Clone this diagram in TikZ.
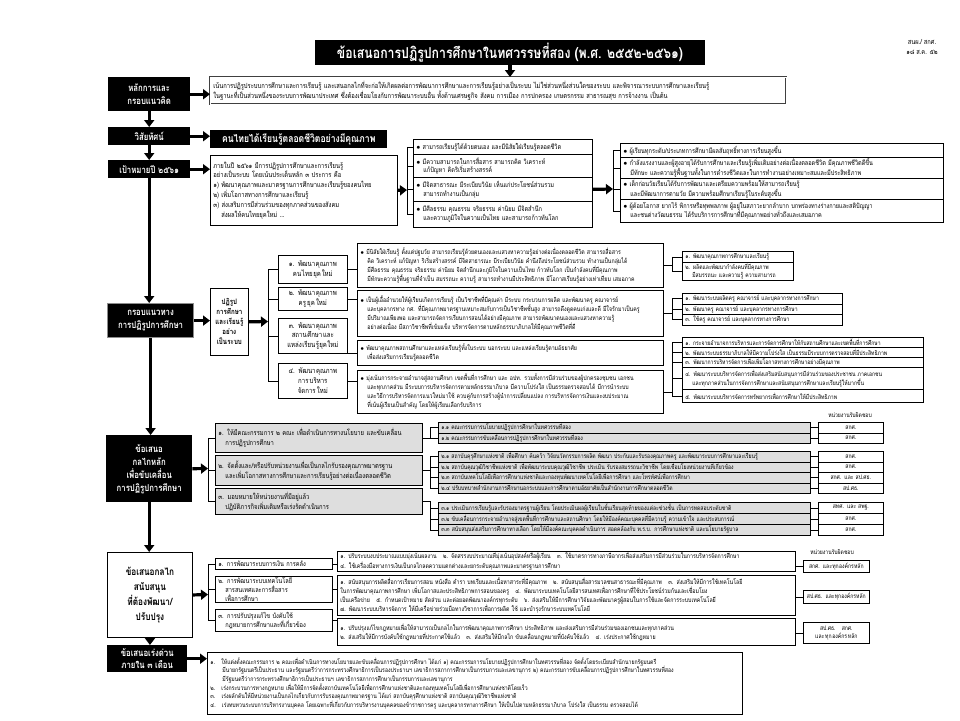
\documentclass[tikz,border=0pt]{standalone}
\usepackage{fontspec}
\setmainfont[Script=Thai,FakeStretch=0.82]{Loma}
\usetikzlibrary{arrows.meta,positioning}
\XeTeXlinebreaklocale "th"
\XeTeXlinebreakskip=0pt plus 1pt
\newcommand{\blt}{$\bullet$\ }
\newcommand{\nxt}{\\\hspace*{7pt}}

\tikzset{
  banner/.style={fill=black, text=white, font=\bfseries\fontsize{15}{18}\selectfont, inner sep=2pt},
  sidehead/.style={fill=black, text=white, anchor=north west, align=center, inner sep=1pt,
    font=\bfseries\fontsize{9.5}{13}\selectfont},
  box/.style={draw, line width=0.7pt, fill=white, anchor=north west, align=left,
    inner xsep=3pt, inner ysep=1pt, font=\fontsize{6.8}{8.8}\selectfont},
  greybox/.style={box, fill=black!13},
  subbox/.style={greybox, font=\fontsize{6.2}{7.8}\selectfont},
  resp/.style={box, align=center, inner xsep=2pt, font=\fontsize{6.2}{7.8}\selectfont},
  bigarrow/.style={line width=3.2pt, -{Triangle[width=10pt,length=7pt]}},
  link/.style={line width=0.7pt},
}

\begin{document}
\begin{tikzpicture}[x=1pt,y=-1pt]
\useasboundingbox (0,0) rectangle (960,720);

% Title
\node[banner, minimum width=390pt, minimum height=25pt] (title) at (510,52.5)
  {ข้อเสนอการปฏิรูปการศึกษาในทศวรรษที่สอง (พ.ศ. ๒๕๕๒-๒๕๖๑)};
\node[align=center, font=\fontsize{7}{9.5}\selectfont] (memo) at (922,47) {สนผ./ สกศ.\\๑๘ ส.ค. ๕๒};

% Principles
\node[sidehead, minimum width=82pt, minimum height=34pt] (princhead) at (108,77) {หลักการและ\\กรอบแนวคิด};
\node[box, double, double distance=0.8pt, draw=black!75, text width=570pt, minimum height=27pt, font=\fontsize{7.1}{9.6}\selectfont] (princ) at (210,77)
  {เน้นการปฏิรูประบบการศึกษาและการเรียนรู้ และเสนอกลไกที่จะก่อให้เกิดผลต่อการพัฒนาการศึกษาและการเรียนรู้อย่างเป็นระบบ ไม่ใช่ส่วนหนึ่งส่วนใดของระบบ และพิจารณาระบบการศึกษาและเรียนรู้\\
   ในฐานะที่เป็นส่วนหนึ่งของระบบการพัฒนาประเทศ ซึ่งต้องเชื่อมโยงกับการพัฒนาระบบอื่น ทั้งด้านเศรษฐกิจ สังคม การเมือง การปกครอง เกษตรกรรม สาธารณสุข การจ้างงาน เป็นต้น};
\draw[bigarrow] (title.south) -- (title.south |- princ.north);

% Vision
\node[sidehead, minimum width=82pt, minimum height=18pt] (vishead) at (108,127) {วิสัยทัศน์};
\node[sidehead, minimum width=177pt, minimum height=18pt, font=\bfseries\fontsize{10.5}{12}\selectfont] (vis) at (210,130)
  {คนไทยได้เรียนรู้ตลอดชีวิตอย่างมีคุณภาพ};

% Goal 2561
\node[sidehead, minimum width=82pt, minimum height=18pt] (goalhead) at (108,160) {เป้าหมายปี ๒๕๖๑};
\node[box, text width=181pt, minimum height=70pt, font=\fontsize{7.1}{9.8}\selectfont] (goal) at (210,155)
  {ภายในปี ๒๕๖๑ มีการปฏิรูปการศึกษาและการเรียนรู้\\
   อย่างเป็นระบบ โดยเน้นประเด็นหลัก ๓ ประการ คือ\\
   ๑) พัฒนาคุณภาพและมาตรฐานการศึกษาและเรียนรู้ของคนไทย\\
   ๒) เพิ่มโอกาสทางการศึกษาและเรียนรู้\\
   ๓) ส่งเสริมการมีส่วนร่วมของทุกภาคส่วนของสังคม\\
   \hspace*{8pt}ส่งผลให้คนไทยยุคใหม่ ...};

\node[box, text width=173pt, minimum height=15pt] (m1) at (413,139) {\blt สามารถเรียนรู้ได้ด้วยตนเอง และมีนิสัยใฝ่เรียนรู้ตลอดชีวิต};
\node[box, text width=173pt, minimum height=23pt] (m2) at (413,154) {\blt มีความสามารถในการสื่อสาร สามารถคิด วิเคราะห์\nxt แก้ปัญหา คิดริเริ่มสร้างสรรค์};
\node[box, text width=173pt, minimum height=24pt] (m3) at (413,177) {\blt มีจิตสาธารณะ มีระเบียบวินัย เห็นแก่ประโยชน์ส่วนรวม\nxt สามารถทำงานเป็นกลุ่ม};
\node[box, text width=173pt, minimum height=26pt] (m4) at (413,201) {\blt มีศีลธรรม คุณธรรม จริยธรรม ค่านิยม มีจิตสำนึก\nxt และความภูมิใจในความเป็นไทย และสามารถก้าวทันโลก};

\node[box, text width=317pt, minimum height=14pt] (r1) at (620,143) {\blt ผู้เรียนทุกระดับ/ประเภทการศึกษามีผลสัมฤทธิ์ทางการเรียนสูงขึ้น};
\node[box, text width=317pt, minimum height=21pt] (r2) at (620,157) {\blt กำลังแรงงานและผู้สูงอายุได้รับการศึกษาและเรียนรู้เพิ่มเติมอย่างต่อเนื่องตลอดชีวิต มีคุณภาพชีวิตดีขึ้น\nxt มีทักษะ และความรู้พื้นฐานทั้งในการดำรงชีวิตและในการทำงานอย่างเหมาะสมและมีประสิทธิภาพ};
\node[box, text width=317pt, minimum height=21pt] (r3) at (620,178) {\blt เด็กก่อนวัยเรียนได้รับการพัฒนาและเตรียมความพร้อมให้สามารถเรียนรู้\nxt และมีพัฒนาการตามวัย มีความพร้อมศึกษาเรียนรู้ในระดับสูงขึ้น};
\node[box, text width=317pt, minimum height=23pt] (r4) at (620,199) {\blt ผู้ด้อยโอกาส ยากไร้ พิการหรือทุพพลภาพ ผู้อยู่ในสภาวะยากลำบาก บกพร่องทางร่างกายและสติปัญญา\nxt และชนต่างวัฒนธรรม ได้รับบริการการศึกษาที่มีคุณภาพอย่างทั่วถึงและเสมอภาค};

\coordinate (gb) at (407,190);
\coordinate (rb) at (613,189);
\draw[bigarrow] (goal.east) -- (gb);
\draw[link] (gb |- m1.west) -- (gb |- m4.west);
\foreach \n in {m1,m2,m3,m4} \draw[link] (gb |- \n.west) -- (\n.west);
\draw[bigarrow] (m3.east) -- (rb);
\draw[link] (rb |- r1.west) -- (rb |- r4.west);
\foreach \n in {r1,r2,r3,r4} \draw[link] (rb |- \n.west) -- (\n.west);

% Reform framework
\node[sidehead, minimum width=86pt, minimum height=34pt, draw=black!45, line width=1.2pt] (fwhead) at (107,303) {กรอบแนวทาง\\การปฏิรูปการศึกษา};
\node[box, align=center, inner xsep=2pt, text width=34pt, minimum height=67pt, font=\bfseries\fontsize{7.5}{10}\selectfont] (reform) at (210,288)
  {ปฏิรูป\\การศึกษา\\และเรียนรู้\\อย่าง\\เป็นระบบ};

\node[box, align=center, text width=63pt, minimum height=28pt, font=\fontsize{7.4}{9.8}\selectfont] (f1) at (278,255) {๑. พัฒนาคุณภาพ\\คนไทยยุคใหม่};
\node[box, align=center, text width=63pt, minimum height=23pt, font=\fontsize{7.4}{9.8}\selectfont] (f2) at (278,287) {๒. พัฒนาคุณภาพ\\ครูยุคใหม่};
\node[box, align=center, text width=63pt, minimum height=35pt, font=\fontsize{7.4}{9.8}\selectfont] (f3) at (278,318) {๓. พัฒนาคุณภาพ\\สถานศึกษาและ\\แหล่งเรียนรู้ยุคใหม่};
\node[box, align=center, text width=63pt, minimum height=35pt, font=\fontsize{7.4}{9.8}\selectfont] (f4) at (278,363) {๔. พัฒนาคุณภาพ\\การบริหาร\\จัดการใหม่};

\node[box, text width=300pt, minimum height=44pt, font=\fontsize{6.4}{9}\selectfont] (d1) at (357,243)
  {\blt มีนิสัยใฝ่เรียนรู้ ตั้งแต่ปฐมวัย สามารถเรียนรู้ด้วยตนเองและแสวงหาความรู้อย่างต่อเนื่องตลอดชีวิต สามารถสื่อสาร\nxt
   คิด วิเคราะห์ แก้ปัญหา ริเริ่มสร้างสรรค์ มีจิตสาธารณะ มีระเบียบวินัย คำนึงถึงประโยชน์ส่วนรวม ทำงานเป็นกลุ่มได้\nxt
   มีศีลธรรม คุณธรรม จริยธรรม ค่านิยม จิตสำนึกและภูมิใจในความเป็นไทย ก้าวทันโลก เป็นกำลังคนที่มีคุณภาพ\nxt
   มีทักษะความรู้พื้นฐานที่จำเป็น สมรรถนะ ความรู้ สามารถทำงานมีประสิทธิภาพ มีโอกาสเรียนรู้อย่างเท่าเทียม เสมอภาค};
\node[box, text width=300pt, minimum height=46pt, font=\fontsize{6.4}{9}\selectfont] (d2) at (357,290)
  {\blt เป็นผู้เอื้ออำนวยให้ผู้เรียนเกิดการเรียนรู้ เป็นวิชาชีพที่มีคุณค่า มีระบบ กระบวนการผลิต และพัฒนาครู คณาจารย์\nxt
   และบุคลากรทาง กศ. ที่มีคุณภาพมาตรฐานเหมาะสมกับการเป็นวิชาชีพชั้นสูง สามารถดึงดูดคนเก่งและดี มีใจรักมาเป็นครู\nxt
   มีปริมาณเพียงพอ และสามารถจัดการเรียนการสอนได้อย่างมีคุณภาพ สามารถพัฒนาตนเองและแสวงหาความรู้\nxt
   อย่างต่อเนื่อง มีสภาวิชาชีพที่เข้มแข็ง บริหารจัดการตามหลักธรรมาภิบาลให้มีคุณภาพชีวิตที่ดี};
\node[box, text width=300pt, minimum height=25pt, font=\fontsize{6.4}{9}\selectfont] (d3) at (357,340)
  {\blt พัฒนาคุณภาพสถานศึกษาและแหล่งเรียนรู้ทั้งในระบบ นอกระบบ และแหล่งเรียนรู้ตามอัธยาศัย\nxt
   เพื่อส่งเสริมการเรียนรู้ตลอดชีวิต};
\node[box, text width=300pt, minimum height=43pt, font=\fontsize{6.4}{9}\selectfont] (d4) at (357,370)
  {\blt มุ่งเน้นการกระจายอำนาจสู่สถานศึกษา เขตพื้นที่การศึกษา และ อปท. รวมทั้งการมีส่วนร่วมของผู้ปกครองชุมชน เอกชน\nxt
   และทุกภาคส่วน มีระบบการบริหารจัดการตามหลักธรรมาภิบาล มีความโปร่งใส เป็นธรรมตรวจสอบได้ มีการนำระบบ\nxt
   และวิธีการบริหารจัดการแนวใหม่มาใช้ ควบคู่กับการสร้างผู้นำการเปลี่ยนแปลง การบริหารจัดการเงินและงบประมาณ\nxt
   ที่เน้นผู้เรียนเป็นสำคัญ โดยให้ผู้เรียนเลือกรับบริการ};

\node[box, text width=105pt, minimum height=11pt, font=\fontsize{6.2}{7.8}\selectfont] (q1) at (682,251) {๑. พัฒนาคุณภาพการศึกษาและเรียนรู้};
\node[box, text width=105pt, minimum height=18pt, font=\fontsize{6.2}{7.8}\selectfont] (q2) at (682,262) {๒. ผลิตและพัฒนากำลังคนที่มีคุณภาพ\nxt มีสมรรถนะ และความรู้ ความสามารถ};
\node[box, text width=154pt, minimum height=10.5pt, font=\fontsize{6.2}{7.8}\selectfont] (t1) at (682,293) {๑. พัฒนาระบบผลิตครู คณาจารย์ และบุคลากรทางการศึกษา};
\node[box, text width=154pt, minimum height=10.5pt, font=\fontsize{6.2}{7.8}\selectfont] (t2) at (682,303.5) {๒. พัฒนาครู คณาจารย์ และบุคลากรทางการศึกษา};
\node[box, text width=154pt, minimum height=10.5pt, font=\fontsize{6.2}{7.8}\selectfont] (t3) at (682,314) {๓. ใช้ครู คณาจารย์ และบุคลากรทางการศึกษา};
\node[box, text width=235pt, minimum height=10pt, font=\fontsize{6.2}{7.8}\selectfont] (a1) at (682,337) {๑. กระจายอำนาจการบริหารและการจัดการศึกษาให้กับสถานศึกษาและเขตพื้นที่การศึกษา};
\node[box, text width=235pt, minimum height=10pt, font=\fontsize{6.2}{7.8}\selectfont] (a2) at (682,347) {๒. พัฒนาระบบธรรมาภิบาลให้มีความโปร่งใส เป็นธรรมมีระบบการตรวจสอบที่มีประสิทธิภาพ};
\node[box, text width=235pt, minimum height=10pt, font=\fontsize{6.2}{7.8}\selectfont] (a3) at (682,357) {๓. พัฒนาการบริหารจัดการเพื่อเพิ่มโอกาสทางการศึกษาอย่างมีคุณภาพ};
\node[box, text width=235pt, minimum height=22pt, font=\fontsize{6.2}{7.8}\selectfont] (a4) at (682,367) {๔. พัฒนาระบบบริหารจัดการเพื่อส่งเสริมสนับสนุนการมีส่วนร่วมของประชาชน ภาคเอกชน\nxt และทุกภาคส่วนในการจัดการศึกษาและสนับสนุนการศึกษาและเรียนรู้ให้มากขึ้น};
\node[box, text width=235pt, minimum height=13pt, font=\fontsize{6.2}{7.8}\selectfont] (a5) at (682,389) {๕. พัฒนาระบบบริหารจัดการทรัพยากรเพื่อการศึกษาให้มีประสิทธิภาพ};

\draw[bigarrow] (fwhead.east) -- (fwhead.east -| reform.west);
\coordinate (fb) at (268,321.5);
\draw[bigarrow] (reform.east) -- (fb);
\draw[link] (fb |- f1.west) -- (fb |- f4.west);
\foreach \n in {f1,f2,f3,f4} \draw[link] (fb |- \n.west) -- (\n.west);
\draw[link] (f1.east) -- (f1.east -| d1.west);
\draw[link] (f2.east) -- (f2.east -| d2.west);
\draw[link] (d3.west -| f3.east) -- (d3.west);
\draw[link] (f4.east) -- (f4.east -| d4.west);
\coordinate (qb) at (672,0);
\draw[link] (d1.east) -- (d1.east -| qb) (qb |- q1.west) -- (qb |- q2.west);
\foreach \n in {q1,q2} \draw[link] (qb |- \n.west) -- (\n.west);
\draw[link] (d2.east) -- (d2.east -| qb) (qb |- t1.west) -- (qb |- t3.west);
\foreach \n in {t1,t2,t3} \draw[link] (qb |- \n.west) -- (\n.west);
\draw[link] (d4.east) -- (d4.east -| qb) (qb |- a1.west) -- (qb |- a5.west);
\foreach \n in {a1,a2,a3,a4,a5} \draw[link] (qb |- \n.west) -- (\n.west);

% Main mechanisms
\node[sidehead, minimum width=86pt, minimum height=67pt] (mechhead) at (106,435) {ข้อเสนอ\\กลไกหลัก\\เพื่อขับเคลื่อน\\การปฏิรูปการศึกษา};
\node[greybox, text width=201pt, minimum height=29pt, font=\fontsize{7.1}{9.8}\selectfont] (k1) at (215,423) {๑. ให้มีคณะกรรมการ ๒ คณะ เพื่อดำเนินการทางนโยบาย และขับเคลื่อน\nxt การปฏิรูปการศึกษา};
\node[greybox, text width=201pt, minimum height=30pt, font=\fontsize{7.1}{9.8}\selectfont] (k2) at (215,455) {๒. จัดตั้งและ/หรือปรับหน่วยงานเพื่อเป็นกลไกรับรองคุณภาพมาตรฐาน\nxt และเพิ่มโอกาสทางการศึกษาและการเรียนรู้อย่างต่อเนื่องตลอดชีวิต};
\node[greybox, text width=201pt, minimum height=26pt, font=\fontsize{7.1}{9.8}\selectfont] (k3) at (215,488) {๓. มอบหมายให้หน่วยงานที่มีอยู่แล้ว\nxt ปฏิบัติภารกิจเพิ่มเติมหรือเร่งรัดดำเนินการ};

\node[subbox, text width=366pt, minimum height=10.5pt] (pol1) at (438,422) {๑.๑ คณะกรรมการนโยบายปฏิรูปการศึกษาในทศวรรษที่สอง};
\node[subbox, text width=366pt, minimum height=10.5pt] (pol2) at (438,432.5) {๑.๒ คณะกรรมการขับเคลื่อนการปฏิรูปการศึกษาในทศวรรษที่สอง};
\node[subbox, text width=366pt, minimum height=10.5pt] (inst1) at (438,451) {๒.๑ สถาบันคุรุศึกษาแห่งชาติ เพื่อศึกษา ค้นคว้า วิจัยนวัตกรรมการผลิต พัฒนา ประกันและรับรองคุณภาพครู และพัฒนาระบบการศึกษาและเรียนรู้};
\node[subbox, text width=366pt, minimum height=10.5pt] (inst2) at (438,461.5) {๒.๒ สถาบันคุณวุฒิวิชาชีพแห่งชาติ เพื่อพัฒนาระบบคุณวุฒิวิชาชีพ ประเมิน รับรองสมรรถนะวิชาชีพ โดยเชื่อมโยงหน่วยงานที่เกี่ยวข้อง};
\node[subbox, text width=366pt, minimum height=10.5pt] (inst3) at (438,472) {๒.๓ สถาบันเทคโนโลยีเพื่อการศึกษาแห่งชาติและกองทุนพัฒนาเทคโนโลยีเพื่อการศึกษา และโทรทัศน์เพื่อการศึกษา};
\node[subbox, text width=366pt, minimum height=10.5pt] (inst4) at (438,482.5) {๒.๔ ปรับบทบาทสำนักงานการศึกษานอกระบบและการศึกษาตามอัธยาศัยเป็นสำนักงานการศึกษาตลอดชีวิต};
\node[subbox, text width=366pt, minimum height=11pt] (task1) at (438,502) {๓.๑ ประเมินการเรียนรู้และรับรองมาตรฐานผู้เรียน โดยประเมินผลผู้เรียนในชั้นเรียนสุดท้ายของแต่ละช่วงชั้น เป็นการทดสอบระดับชาติ};
\node[subbox, text width=366pt, minimum height=11pt] (task2) at (438,513) {๓.๒ ขับเคลื่อนการกระจายอำนาจสู่เขตพื้นที่การศึกษาและสถานศึกษา โดยให้มีองค์คณะบุคคลที่มีความรู้ ความเข้าใจ และประสบการณ์};
\node[subbox, text width=366pt, minimum height=11pt] (task3) at (438,524) {๓.๓ สนับสนุนส่งเสริมการศึกษาทางเลือก โดยให้มีองค์คณะบุคคลดำเนินการ สอดคล้องกับ พ.ร.บ. การศึกษาแห่งชาติ และนโยบายรัฐบาล};

\node[font=\fontsize{6.2}{7}\selectfont] (resphead) at (850,415) {หน่วยงานรับผิดชอบ};
\node[resp, text width=61pt, minimum height=10.5pt] (rpol1) at (818,422) {สกศ.};
\node[resp, text width=61pt, minimum height=10.5pt] (rpol2) at (818,432.5) {สกศ.};
\node[resp, text width=61pt, minimum height=10.5pt] (rinst1) at (818,451) {สกศ.};
\node[resp, text width=61pt, minimum height=10.5pt] (rinst2) at (818,461.5) {สกศ.};
\node[resp, text width=61pt, minimum height=10.5pt] (rinst3) at (818,472) {สกศ. และ สป.ศธ.};
\node[resp, text width=61pt, minimum height=10.5pt] (rinst4) at (818,482.5) {สป.ศธ.};
\node[resp, text width=61pt, minimum height=11pt] (rtask1) at (818,502) {สทศ. และ สพฐ.};
\node[resp, text width=61pt, minimum height=11pt] (rtask2) at (818,513) {สกศ.};
\node[resp, text width=61pt, minimum height=11pt] (rtask3) at (818,524) {สกศ.};

\coordinate (mb) at (208,468.5);
\draw[bigarrow] (mechhead.east) -- (mb);
\draw[link] (mb |- k1.west) -- (mb |- k3.west);
\foreach \n in {k1,k2,k3} \draw[link] (mb |- \n.west) -- (\n.west);
\coordinate (kb) at (430,0);
\draw[link] (k1.east) -- (k1.east -| kb) -- (kb |- pol1.west) (kb |- pol1.west) -- (kb |- pol2.west);
\foreach \n in {pol1,pol2} \draw[link] (kb |- \n.west) -- (\n.west);
\draw[link] (k2.east) -- (k2.east -| kb) (kb |- inst1.west) -- (kb |- inst4.west);
\foreach \n in {inst1,inst2,inst3,inst4} \draw[link] (kb |- \n.west) -- (\n.west);
\draw[link] (k3.east) -- (k3.east -| kb) -- (kb |- task3.west);
\foreach \n in {task1,task2,task3} \draw[link] (kb |- \n.west) -- (\n.west);
\foreach \n in {pol1,pol2,inst1,inst2,inst3,inst4,task1,task2,task3} \draw[link] (\n.east) -- (r\n.west);

% Supporting mechanisms
\node[sidehead, fill=white, text=black, draw, line width=0.9pt, minimum width=85pt, minimum height=85pt, font=\bfseries\fontsize{10}{15}\selectfont] (supphead) at (107,552)
  {ข้อเสนอกลไก\\สนับสนุน\\ที่ต้องพัฒนา/\\ปรับปรุง};
\node[box, text width=111pt, minimum height=11pt, font=\fontsize{6.9}{9}\selectfont] (s1) at (215,558) {๑. การพัฒนาระบบการเงิน การคลัง};
\node[box, text width=111pt, minimum height=26pt, font=\fontsize{6.9}{9}\selectfont] (s2) at (215,576) {๒. การพัฒนาระบบเทคโนโลยี\nxt สารสนเทศและการสื่อสาร\nxt เพื่อการศึกษา};
\node[box, text width=111pt, minimum height=22pt, font=\fontsize{6.9}{9}\selectfont] (s3) at (215,609) {๓. การปรับปรุงแก้ไข บังคับใช้\nxt กฎหมายการศึกษาและที่เกี่ยวข้อง};

\node[box, text width=452pt, minimum height=17pt, font=\fontsize{6.4}{8}\selectfont] (e1) at (337,551)
  {๑. ปรับระบบงบประมาณแบบมุ่งเน้นผลงาน\quad ๒. จัดสรรงบประมาณที่มุ่งเน้นอุปสงค์หรือผู้เรียน\quad ๓. ใช้มาตรการทางภาษีอากรเพื่อส่งเสริมการมีส่วนร่วมในการบริหารจัดการศึกษา\\
   ๔. ใช้เครื่องมือทางการเงินเป็นกลไกลดความแตกต่างและยกระดับคุณภาพและมาตรฐานการศึกษา};
\node[box, text width=452pt, minimum height=40pt, font=\fontsize{6.4}{9}\selectfont] (e2) at (337,575)
  {๑. สนับสนุนการผลิตสื่อการเรียนการสอน หนังสือ ตำรา บทเรียนและเนื้อหาสาระที่มีคุณภาพ\quad ๒. สนับสนุนสื่อสารมวลชนสาธารณะที่มีคุณภาพ\quad ๓. ส่งเสริมให้มีการใช้เทคโนโลยี\\
   ในการพัฒนาคุณภาพการศึกษา เพิ่มโอกาสและประสิทธิภาพการสอนของครู\quad ๔. พัฒนาระบบเทคโนโลยีสารสนเทศเพื่อการศึกษาที่ใช้ประโยชน์ร่วมกันและเชื่อมโยง\\
   เป็นเครือข่าย\quad ๕. กำหนดเป้าหมาย สัดส่วน และต่อยอดพัฒนาองค์กรทุกระดับ\quad ๖. ส่งเสริมให้มีการศึกษาวิจัยและพัฒนาครูผู้สอนในการใช้และจัดการระบบเทคโนโลยี\\
   ๗. พัฒนาระบบบริหารจัดการ ให้มีเครือข่ายร่วมมือทางวิชาการเพื่อการผลิต ใช้ และบำรุงรักษาระบบเทคโนโลยี};
\node[box, text width=452pt, minimum height=27pt, font=\fontsize{6.4}{9}\selectfont] (e3) at (337,618)
  {๑. ปรับปรุงแก้ไขกฎหมายเพื่อให้สามารถเป็นกลไกในการพัฒนาคุณภาพการศึกษา ประสิทธิภาพ และส่งเสริมการมีส่วนร่วมของเอกชนและทุกภาคส่วน\\
   ๒. ส่งเสริมให้มีการบังคับใช้กฎหมายที่ประกาศใช้แล้ว\quad ๓. ส่งเสริมให้มีกลไก ขับเคลื่อนกฎหมายที่บังคับใช้แล้ว\quad ๔. เร่งประกาศใช้กฎหมาย};

\node[font=\fontsize{6.2}{7}\selectfont] (resphead2) at (832,552) {หน่วยงานรับผิดชอบ};
\node[resp, text width=62pt, minimum height=12pt] (u1) at (803,560) {สกศ. และทุกองค์กรหลัก};
\node[resp, text width=62pt, minimum height=13pt] (u2) at (803,590) {สป.ศธ. และทุกองค์กรหลัก};
\node[resp, text width=62pt, minimum height=21pt] (u3) at (803,622) {สป.ศธ.\quad สกศ.\\และทุกองค์กรหลัก};

\coordinate (sb) at (208,594.5);
\draw[bigarrow] (supphead.east) -- (sb);
\draw[link] (sb |- s1.west) -- (sb |- s3.west);
\foreach \n in {s1,s2,s3} \draw[link] (sb |- \n.west) -- (\n.west);
\draw[link] (s1.east) -- (s1.east -| e1.west);
\draw[link] (s2.east) -- (s2.east -| e2.west);
\draw[link] (s3.east) -- (s3.east -| e3.west);
\draw[link] (u1.west -| e1.east) -- (u1.west);
\draw[link] (u2.west -| e2.east) -- (u2.west);
\draw[link] (u3.west -| e3.east) -- (u3.west);

% Urgent proposals
\node[sidehead, minimum width=80pt, minimum height=27pt, font=\bfseries\fontsize{9.5}{12}\selectfont] (urghead) at (107,645) {ข้อเสนอเร่งด่วน\\ภายใน ๓ เดือน};
\node[box, text width=529pt, minimum height=62pt, font=\fontsize{6.3}{8.6}\selectfont] (urg) at (207,652)
  {๑.\quad ให้แต่งตั้งคณะกรรมการ ๒ คณะเพื่อดำเนินการทางนโยบายและขับเคลื่อนการปฏิรูปการศึกษา ได้แก่ ๑) คณะกรรมการนโยบายปฏิรูปการศึกษาในทศวรรษที่สอง จัดตั้งโดยระเบียบสำนักนายกรัฐมนตรี\\
   \hspace*{12pt}มีนายกรัฐมนตรีเป็นประธาน และรัฐมนตรีว่าการกระทรวงศึกษาธิการเป็นรองประธานฯ เลขาธิการสภาการศึกษาเป็นกรรมการและเลขานุการ ๒) คณะกรรมการขับเคลื่อนการปฏิรูปการศึกษาในทศวรรษที่สอง\\
   \hspace*{12pt}มีรัฐมนตรีว่าการกระทรวงศึกษาธิการเป็นประธานฯ เลขาธิการสภาการศึกษาเป็นกรรมการและเลขานุการ\\
   ๒.\quad เร่งกระบวนการทางกฎหมาย เพื่อให้มีการจัดตั้งสถาบันเทคโนโลยีเพื่อการศึกษาแห่งชาติและกองทุนเทคโนโลยีเพื่อการศึกษาแห่งชาติโดยเร็ว\\
   ๓.\quad เร่งผลักดันให้มีหน่วยงานเป็นกลไกเกี่ยวกับการรับรองคุณภาพมาตรฐาน ได้แก่ สถาบันคุรุศึกษาแห่งชาติ สถาบันคุณวุฒิวิชาชีพแห่งชาติ\\
   ๔.\quad เร่งทบทวนระบบการบริหารงานบุคคล โดยเฉพาะที่เกี่ยวกับการบริหารงานบุคคลของข้าราชการครู และบุคลากรทางการศึกษา ให้เป็นไปตามหลักธรรมาภิบาล โปร่งใส เป็นธรรม ตรวจสอบได้};
\draw[bigarrow] (urghead.east) -- (urghead.east -| urg.west);

% Spine
\draw[bigarrow] (princhead.south) -- (vishead.north);
\draw[bigarrow] (princhead.east) -- (princhead.east -| princ.west);
\draw[bigarrow] (vishead.south) -- (goalhead.north);
\draw[bigarrow] (vishead.east) -- (vishead.east -| vis.west);
\draw[bigarrow] (goalhead.east) -- (goalhead.east -| goal.west);
\draw[bigarrow] (goalhead.south) -- (goalhead.south |- fwhead.north);
\draw[bigarrow] (fwhead.south) -- (fwhead.south |- mechhead.north);
\draw[bigarrow] (mechhead.south) -- (mechhead.south |- supphead.north);
\draw[bigarrow] (supphead.south) -- (supphead.south |- urghead.north);
\end{tikzpicture}
\end{document}
